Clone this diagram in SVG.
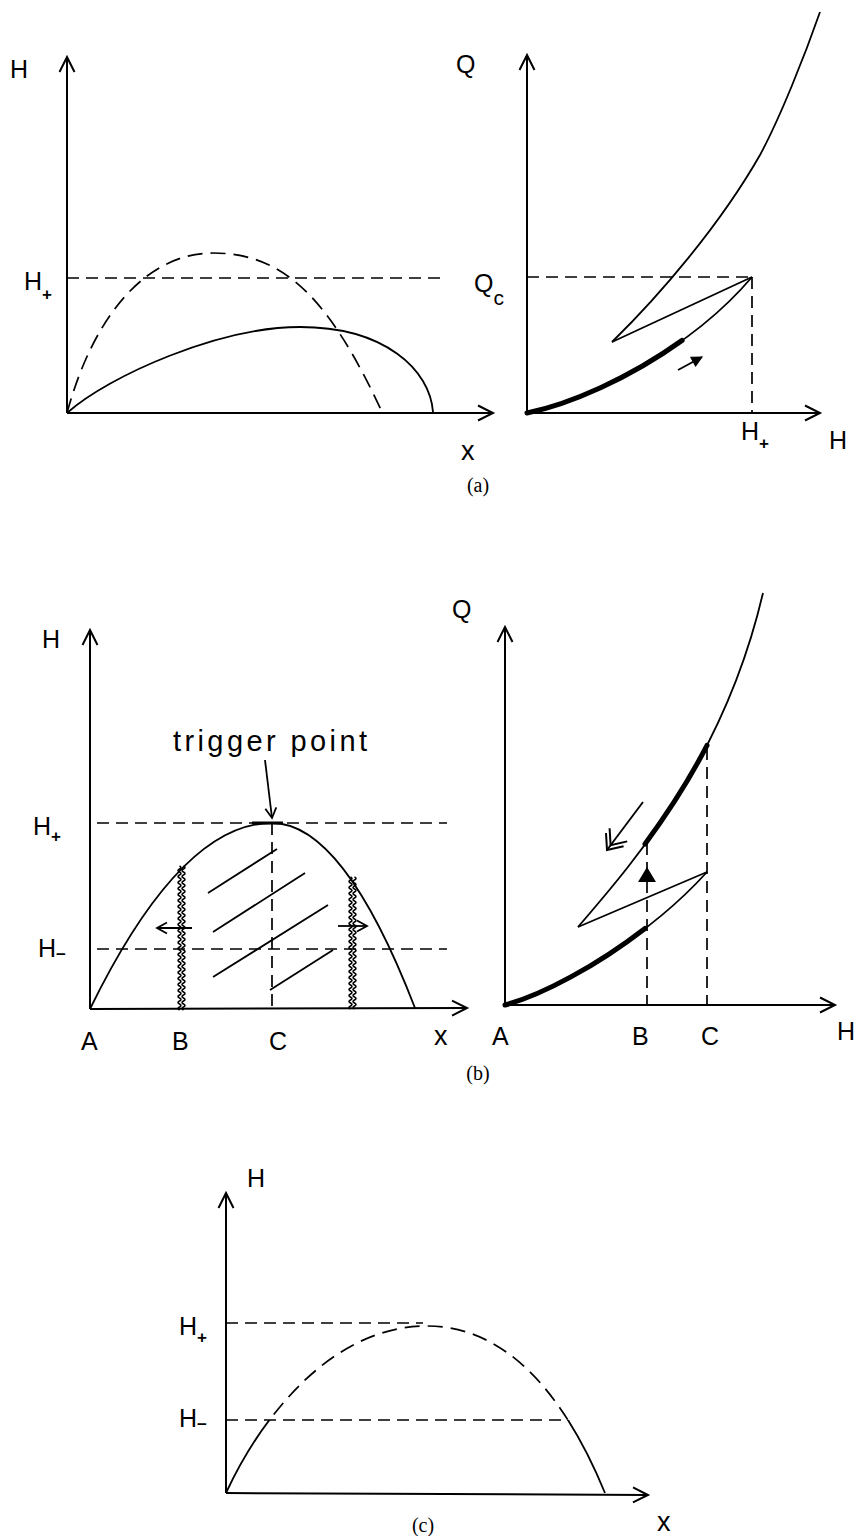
<svg xmlns="http://www.w3.org/2000/svg" xmlns:xlink="http://www.w3.org/1999/xlink" width="857" height="1536" viewBox="0 0 857 1536">
<style>
.ax{fill:none;stroke:#000;stroke-width:2}
.cv{fill:none;stroke:#000;stroke-width:1.8}
.th{fill:none;stroke:#000;stroke-width:5;stroke-linecap:round}
.ds{fill:none;stroke:#000;stroke-width:1.7;stroke-dasharray:12 7}
.dc{fill:none;stroke:#000;stroke-width:1.7;stroke-dasharray:15 8}
.wv{fill:none;stroke:#000;stroke-width:1.5}
.lb{font-family:"Liberation Sans",Arial,sans-serif;font-size:25px;fill:#000}
.sb{font-size:17px;font-weight:bold}
.cap{font-family:"Liberation Serif","Times New Roman",serif;font-size:20px;fill:#000;text-anchor:middle}
</style>
<defs>
<marker id="ah" markerUnits="userSpaceOnUse" viewBox="-20 -10 22 20" markerWidth="22" markerHeight="20" refX="0" refY="0" orient="auto" overflow="visible"><path d="M-15,-7.5 L0,0 L-15,7.5" fill="none" stroke="#000" stroke-width="2"/></marker>
<marker id="ahs" markerUnits="userSpaceOnUse" viewBox="-20 -10 22 20" markerWidth="22" markerHeight="20" refX="0" refY="0" orient="auto" overflow="visible"><path d="M-10,-5.5 L0,0 L-10,5.5" fill="none" stroke="#000" stroke-width="1.8"/></marker>
<marker id="ahf" markerUnits="userSpaceOnUse" viewBox="-20 -10 22 20" markerWidth="22" markerHeight="20" refX="0" refY="0" orient="auto" overflow="visible"><path d="M-10,-5 L0,0 L-10,5 Z" fill="#000" stroke="#000" stroke-width="1"/></marker>
<marker id="ahd" markerUnits="userSpaceOnUse" viewBox="-20 -10 22 20" markerWidth="22" markerHeight="20" refX="0" refY="0" orient="auto" overflow="visible"><path d="M-13,-11 L0,0 L-13,11 M-19,-11 L-6,0 L-19,11" fill="none" stroke="#000" stroke-width="2"/></marker>
<path id="wvL" d="M0,0 q3,1.5 0,3 q-3,1.5 0,3 q3,1.5 0,3 q-3,1.5 0,3 q3,1.5 0,3 q-3,1.5 0,3 q3,1.5 0,3 q-3,1.5 0,3 q3,1.5 0,3 q-3,1.5 0,3 q3,1.5 0,3 q-3,1.5 0,3 q3,1.5 0,3 q-3,1.5 0,3 q3,1.5 0,3 q-3,1.5 0,3 q3,1.5 0,3 q-3,1.5 0,3 q3,1.5 0,3 q-3,1.5 0,3 q3,1.5 0,3 q-3,1.5 0,3 q3,1.5 0,3 q-3,1.5 0,3 q3,1.5 0,3 q-3,1.5 0,3 q3,1.5 0,3 q-3,1.5 0,3 q3,1.5 0,3 q-3,1.5 0,3 q3,1.5 0,3 q-3,1.5 0,3 q3,1.5 0,3 q-3,1.5 0,3 q3,1.5 0,3 q-3,1.5 0,3 q3,1.5 0,3 q-3,1.5 0,3 q3,1.5 0,3 q-3,1.5 0,3 q3,1.5 0,3 q-3,1.5 0,3 q3,1.5 0,3 q-3,1.5 0,3 q3,1.5 0,3 q-3,1.5 0,3 q3,1.5 0,3 q-3,1.5 0,3"/>
<path id="wvR" d="M0,0 q3,1.5 0,3 q-3,1.5 0,3 q3,1.5 0,3 q-3,1.5 0,3 q3,1.5 0,3 q-3,1.5 0,3 q3,1.5 0,3 q-3,1.5 0,3 q3,1.5 0,3 q-3,1.5 0,3 q3,1.5 0,3 q-3,1.5 0,3 q3,1.5 0,3 q-3,1.5 0,3 q3,1.5 0,3 q-3,1.5 0,3 q3,1.5 0,3 q-3,1.5 0,3 q3,1.5 0,3 q-3,1.5 0,3 q3,1.5 0,3 q-3,1.5 0,3 q3,1.5 0,3 q-3,1.5 0,3 q3,1.5 0,3 q-3,1.5 0,3 q3,1.5 0,3 q-3,1.5 0,3 q3,1.5 0,3 q-3,1.5 0,3 q3,1.5 0,3 q-3,1.5 0,3 q3,1.5 0,3 q-3,1.5 0,3 q3,1.5 0,3 q-3,1.5 0,3 q3,1.5 0,3 q-3,1.5 0,3 q3,1.5 0,3 q-3,1.5 0,3 q3,1.5 0,3 q-3,1.5 0,3 q3,1.5 0,3 q-3,1.5 0,3"/>
<clipPath id="cBelow"><rect x="0" y="1420" width="857" height="116"/></clipPath>
<clipPath id="cAbove"><rect x="0" y="1100" width="857" height="320"/></clipPath>
</defs>

<!-- Panel (a) left -->
<g id="panel-a-left">
<path class="ax" d="M67,413 L67,57" marker-end="url(#ah)"/>
<path class="ax" d="M67,413 L493,413" marker-end="url(#ah)"/>
<path class="ds" d="M67,278 L443,278"/>
<path class="cv" d="M67,413 C110,375 220,327 300,327 C385,327 430,370 433,412"/>
<path class="dc" d="M67,413 C95,310 150,253 213,253 C285,253 330,300 382,412"/>
<text class="lb" x="10" y="78">H</text>
<text class="lb" x="24" y="290">H<tspan class="sb" dy="10">+</tspan></text>
<text class="lb" x="461" y="460" style="font-size:27px">x</text>
<text class="cap" x="478" y="492">(a)</text>
</g>

<!-- Panel (a) right -->
<g id="panel-a-right">
<path class="ax" d="M527,413 L527,55" marker-end="url(#ah)"/>
<path class="ax" d="M527,413 L820,413" marker-end="url(#ah)"/>
<path class="ds" d="M527,277 L750,277"/>
<path class="ds" d="M752,277 L752,413"/>
<path class="cv" d="M612,342 C660,295 720,225 760,155 C780,118 805,55 820,12"/>
<path class="cv" d="M612,342 L752,277"/>
<path class="cv" d="M527,413 C590,400 690,350 752,277"/>
<path class="th" d="M527,413 C569.5,404.2 628.9,378.6 682.1,340.4"/>
<path class="cv" d="M678,370 L702,357" marker-end="url(#ahf)"/>
<text class="lb" x="456" y="73">Q</text>
<text class="lb" x="474" y="292">Q<tspan style="font-size:21px" dy="13">c</tspan></text>
<text class="lb" x="741" y="440">H<tspan class="sb" dy="9">+</tspan></text>
<text class="lb" x="829" y="449">H</text>
</g>

<!-- Panel (b) left -->
<g id="panel-b-left">
<path class="ax" d="M90,1009 L90,630" marker-end="url(#ah)"/>
<path class="ax" d="M90,1009 L467,1008" marker-end="url(#ah)"/>
<path class="ds" d="M97,823 L447,823"/>
<path class="ds" d="M97,949 L447,949"/>
<path class="ds" d="M272,823 L272,1009"/>
<path class="cv" d="M90,1009 Q181,823 272,823 Q343.5,823 415,1008"/>
<path d="M252,823 L283,823" stroke="#000" stroke-width="3"/>
<use href="#wvL" x="179.5" y="866" class="wv"/>
<use href="#wvL" x="183.5" y="866" class="wv"/>
<use href="#wvR" x="350.5" y="877" class="wv"/>
<use href="#wvR" x="354.5" y="877" class="wv"/>
<path class="cv" d="M192,928 L157,928" marker-end="url(#ahs)"/>
<path class="cv" d="M338,926 L367,926" marker-end="url(#ahs)"/>
<path class="cv" d="M208,893 L277,849"/>
<path class="cv" d="M213,932 L305,873"/>
<path class="cv" d="M213,977 L328,905"/>
<path class="cv" d="M270,990 L333,950"/>
<path class="cv" d="M265,760 L272,818" marker-end="url(#ahs)"/>
<text class="lb" x="173" y="751" style="font-size:29px" textLength="194" lengthAdjust="spacing">trigger point</text>
<text class="lb" x="42" y="648">H</text>
<text class="lb" x="33" y="835">H<tspan class="sb" dy="7">+</tspan></text>
<text class="lb" x="38" y="957">H<tspan class="sb" dy="3">−</tspan></text>
<text class="lb" x="81" y="1050">A</text>
<text class="lb" x="172" y="1050">B</text>
<text class="lb" x="269" y="1050">C</text>
<text class="lb" x="434" y="1045" style="font-size:27px">x</text>
<text class="cap" x="478" y="1080">(b)</text>
</g>

<!-- Panel (b) right -->
<g id="panel-b-right">
<path class="ax" d="M505,1005 L505,627" marker-end="url(#ah)"/>
<path class="ax" d="M505,1005 L835,1005" marker-end="url(#ah)"/>
<path class="ds" d="M647,843 L647,1005"/>
<path class="ds" d="M707,748 L707,1005"/>
<path class="cv" d="M578,927 C640,855 725,755 763,593"/>
<path class="th" d="M645,844 C666.3,815 687.8,782.7 707,745.4"/>
<path class="cv" d="M578,927 L707,872"/>
<path class="cv" d="M505,1005 C560,990 650,935 707,872"/>
<path class="th" d="M505,1005 C542.6,994.8 596.5,965.8 645,928.4"/>
<path d="M647,867 L638,882 L656,882 Z" fill="#000"/>
<path class="cv" d="M643,802 L607,850" marker-end="url(#ahd)"/>
<text class="lb" x="452" y="618">Q</text>
<text class="lb" x="492" y="1045">A</text>
<text class="lb" x="632" y="1045">B</text>
<text class="lb" x="701" y="1045">C</text>
<text class="lb" x="837" y="1040">H</text>
</g>

<!-- Panel (c) -->
<g id="panel-c">
<path class="ax" d="M226,1493 L226,1193" marker-end="url(#ah)"/>
<path class="ax" d="M226,1493 L648,1495" marker-end="url(#ah)"/>
<path class="ds" d="M226,1323 L423,1323"/>
<path class="ds" d="M226,1420 L565,1420"/>
<g clip-path="url(#cBelow)"><path class="cv" d="M226,1493 C260,1420 330,1326 427,1326 C520,1326 575,1420 605,1493"/></g>
<g clip-path="url(#cAbove)"><path class="dc" d="M226,1493 C260,1420 330,1326 427,1326 C520,1326 575,1420 605,1493"/></g>
<text class="lb" x="247" y="1187">H</text>
<text class="lb" x="179" y="1335">H<tspan class="sb" dy="8">+</tspan></text>
<text class="lb" x="179" y="1427">H<tspan class="sb" dy="3">−</tspan></text>
<text class="lb" x="657" y="1531" style="font-size:27px">x</text>
<text class="cap" x="423" y="1532">(c)</text>
</g>
</svg>
